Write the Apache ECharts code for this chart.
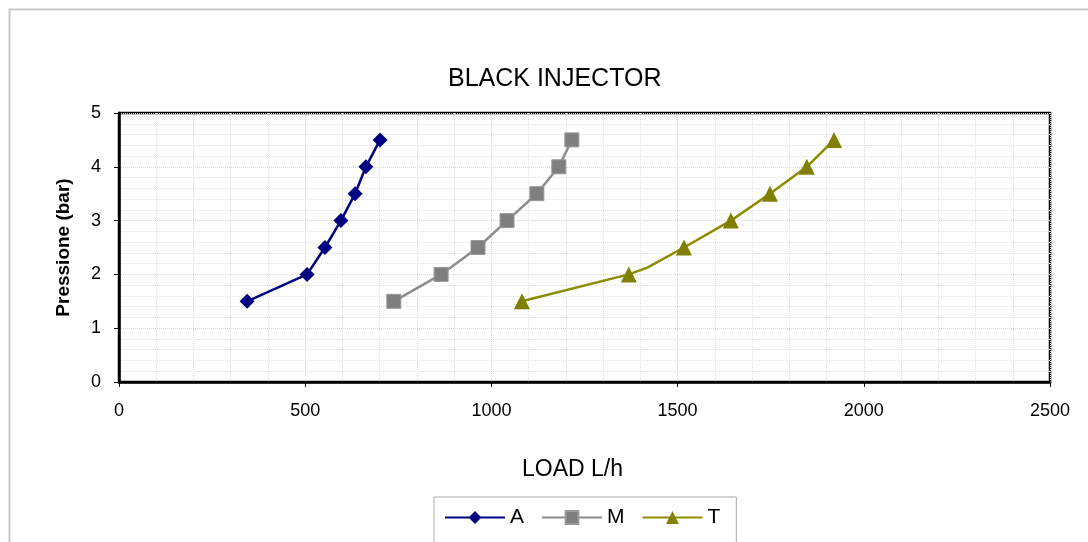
<!DOCTYPE html>
<html>
<head>
<meta charset="utf-8">
<script src="https://cdn.jsdelivr.net/npm/echarts@6/dist/echarts.min.js"></script>
<style>
html,body{margin:0;padding:0;background:#fff;}
#c{width:1088px;height:542px;}
</style>
</head>
<body>
<div id="c"></div>
<script>
const seriesA = [[344,1.5],[505,2],[553,2.5],[596,3],[634,3.5],[663,4],[701,4.5]];
const seriesM = [[738,1.5],[865,2],[964,2.5],[1042,3],[1122,3.5],[1181,4],[1216,4.5]];
const seriesT = [[1082,1.5],[1369,2],[1420,2.13],[1517,2.5],[1643,3],[1748,3.5],[1847,4],[1920,4.5]];
const hiddenMarkerT = [2];
const xTicks = [0,500,1000,1500,2000,2500];
const yTicks = [0,1,2,3,4,5];

const chart = echarts.init(document.getElementById('c'));
const font = 'Liberation Sans, Arial, sans-serif';
const tData = seriesT.map((p,i)=> hiddenMarkerT.includes(i) ? {value:p, symbol:'none'} : p);
chart.setOption({
  backgroundColor:'#fff',
  animation:false,
  title:{text:'BLACK INJECTOR',left:443,top:62,textStyle:{fontFamily:font,fontSize:25,fontWeight:'normal',color:'#000'}},
  graphic:[{type:'rect',shape:{x:9.5,y:9.5,width:1100,height:560},style:{fill:'none',stroke:'#c8c8c8',lineWidth:2},z:-1}],
  legend:{
    left:434, top:497,
    padding:[10,16,16,10],
    borderColor:'#aaa', borderWidth:1,
    itemWidth:60, itemHeight:16, itemGap:17,
    textStyle:{fontFamily:font,fontSize:21,color:'#000'},
    data:['A','M','T']
  },
  grid:{left:119,right:38,top:113,bottom:160,show:true,borderColor:'#000',borderWidth:2.5,backgroundColor:'#fff'},
  xAxis:{
    type:'value',min:xTicks[0],max:xTicks[xTicks.length-1],interval:500,
    name:'LOAD L/h',nameLocation:'middle',nameGap:76,
    nameTextStyle:{fontFamily:font,fontSize:23,color:'#000',padding:[0,24,0,0]},
    axisLine:{show:true,lineStyle:{color:'#000',width:2.5}},
    axisTick:{show:true,inside:false,length:5,lineStyle:{color:'#000'}},
    axisLabel:{fontFamily:font,fontSize:18,color:'#000',margin:20,formatter:v=>String(v)},
    splitLine:{show:true,lineStyle:{color:'#d8d8d8',type:'dotted',width:1}},
    minorTick:{show:false,splitNumber:5},
    minorSplitLine:{show:true,lineStyle:{color:'#e2e2e2',type:'dotted',width:1}}
  },
  yAxis:{
    type:'value',min:yTicks[0],max:yTicks[yTicks.length-1],interval:1,
    name:'Pressione (bar)',nameLocation:'middle',nameGap:46,
    nameTextStyle:{fontFamily:font,fontSize:19,fontWeight:'bold',color:'#000'},
    axisLine:{show:true,lineStyle:{color:'#000',width:2.5}},
    axisTick:{show:true,inside:false,length:5,lineStyle:{color:'#000'}},
    axisLabel:{fontFamily:font,fontSize:18,color:'#000',margin:18,formatter:v=>String(v)},
    splitLine:{show:true,lineStyle:{color:'#d8d8d8',type:'dotted',width:1}},
    minorTick:{show:false,splitNumber:5},
    minorSplitLine:{show:true,lineStyle:{color:'#e2e2e2',type:'dotted',width:1}}
  },
  series:[
    {name:'A',type:'line',data:seriesA,symbol:'diamond',symbolSize:15,
     lineStyle:{color:'#000080',width:2.5},itemStyle:{color:'#000080'}},
    {name:'M',type:'line',data:seriesM,symbol:'rect',symbolSize:14,
     lineStyle:{color:'#8c8c8c',width:2.5},itemStyle:{color:'#7f7f7f',borderColor:'#999',borderWidth:1}},
    {name:'T',type:'line',data:tData,symbol:'triangle',symbolSize:16,
     lineStyle:{color:'#8c8c00',width:2.5},itemStyle:{color:'#808000'}}
  ]
});
</script>
</body>
</html>
